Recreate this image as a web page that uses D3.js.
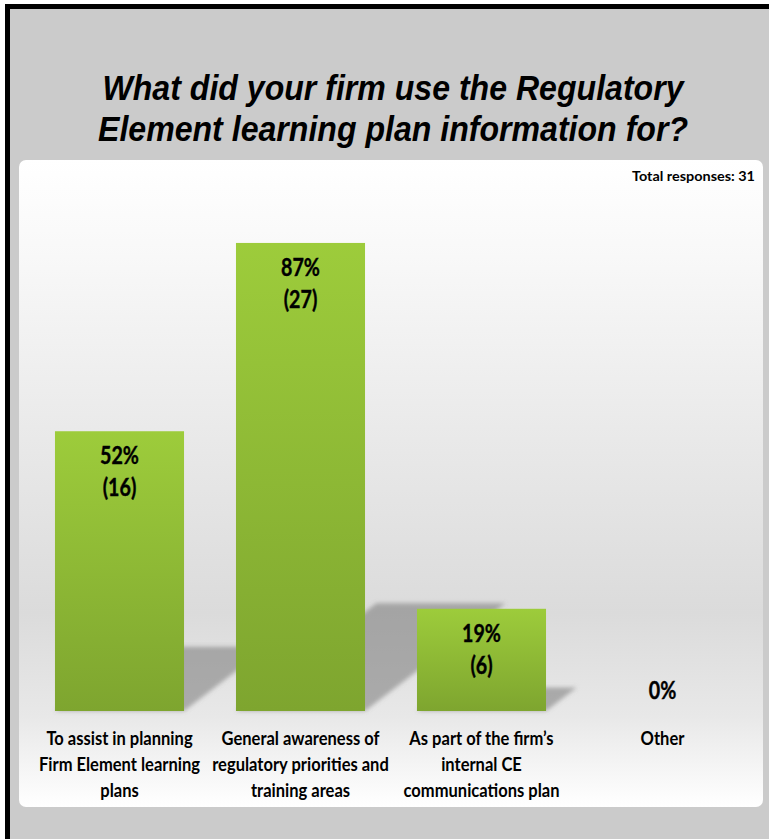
<!DOCTYPE html>
<html>
<head>
<meta charset="utf-8">
<script src="https://cdn.jsdelivr.net/npm/d3@7/dist/d3.min.js"></script>
<style>
  html, body { margin: 0; padding: 0; background: #ffffff; }
  svg { display: block; }
</style>
</head>
<body>
<script>
// ---- data ----
const categories = [
  ["To assist in planning", "Firm Element learning", "plans"],
  ["General awareness of", "regulatory priorities and", "training areas"],
  ["As part of the firm\u2019s", "internal CE", "communications plan"],
  ["Other"]
];
const percents = [52, 87, 19, 0];
const counts = [16, 27, 6, 0];
const titleLines = ["What did your firm use the Regulatory", "Element learning plan information for?"];
const totalLabel = "Total responses: 31";

// ---- layout ----
const W = 769, H = 839;
const svg = d3.select("body").append("svg").attr("width", W).attr("height", H);
const defs = svg.append("defs");

const panelGrad = defs.append("linearGradient").attr("id", "panelGrad")
  .attr("x1", 0).attr("y1", 0).attr("x2", 0).attr("y2", 1);
[[0, "#ffffff"], [0.15, "#f8f8f8"], [0.45, "#e8e8e8"], [0.7, "#dbdbdb"], [0.86, "#e8e8e8"], [1, "#ffffff"]]
  .forEach(([o, c]) => panelGrad.append("stop").attr("offset", o).attr("stop-color", c));

const barGrad = defs.append("linearGradient").attr("id", "barGrad")
  .attr("x1", 0).attr("y1", 0).attr("x2", 0).attr("y2", 1);
barGrad.append("stop").attr("offset", 0).attr("stop-color", "#9dcc3b");
barGrad.append("stop").attr("offset", 1).attr("stop-color", "#7ea52f");

const blur = defs.append("filter").attr("id", "blur")
  .attr("x", "-20%").attr("y", "-20%").attr("width", "140%").attr("height", "140%");
blur.append("feGaussianBlur").attr("stdDeviation", 2);

// frame
svg.append("rect").attr("x", 5).attr("y", 4).attr("width", W).attr("height", H).attr("fill", "#000");
svg.append("rect").attr("x", 10).attr("y", 9).attr("width", W).attr("height", H).attr("fill", "#cbcbcb");

// panel
svg.append("rect").attr("x", 19).attr("y", 160).attr("width", 744).attr("height", 647)
  .attr("rx", 7).attr("fill", "url(#panelGrad)");

// title
const title = svg.append("g")
  .attr("font-family", "'Liberation Sans', Arial, sans-serif")
  .attr("font-weight", "bold").attr("font-style", "italic")
  .attr("font-size", 35).attr("fill", "#000").attr("text-anchor", "middle");
title.append("text").attr("x", 393).attr("y", 100)
  .attr("textLength", 581).attr("lengthAdjust", "spacingAndGlyphs").text(titleLines[0]);
title.append("text").attr("x", 393).attr("y", 141)
  .attr("textLength", 590).attr("lengthAdjust", "spacingAndGlyphs").text(titleLines[1]);

// total responses
svg.append("text").attr("x", 755).attr("y", 181).attr("text-anchor", "end")
  .attr("font-family", "Lato, sans-serif").attr("font-weight", "bold").attr("font-size", 14)
  .attr("textLength", 123).attr("lengthAdjust", "spacingAndGlyphs")
  .text(totalLabel);

// scales
const idx = d3.range(categories.length);
const x = d3.scaleBand().domain(idx).range([29, 753]).paddingInner(0.287).paddingOuter(0.1435);
const y = d3.scaleLinear().domain([0, 100]).range([711, 173]);
const base = y(0);

// shadows
const shadowG = svg.append("g").attr("filter", "url(#blur)");
idx.forEach(i => {
  const h = base - y(percents[i]);
  if (h <= 0) return;
  const x0 = x(i), x1 = x(i) + x.bandwidth();
  const dx = 0.3 * h, dy = 0.23 * h;
  shadowG.append("polygon")
    .attr("points", [[x0, base], [x1, base], [x1 + dx, base - dy], [x0 + dx, base - dy]].map(p => p.join(",")).join(" "))
    .attr("fill", "#6e6e6e").attr("fill-opacity", 0.5);
});

// bars
svg.append("g").selectAll("rect").data(idx).join("rect")
  .attr("x", i => x(i)).attr("width", x.bandwidth())
  .attr("y", i => y(percents[i])).attr("height", i => base - y(percents[i]))
  .attr("fill", "url(#barGrad)");

// value labels
const valG = svg.append("g").attr("font-family", "Lato, sans-serif").attr("font-weight", "bold")
  .attr("font-size", 24).attr("fill", "#000").attr("text-anchor", "middle")
  .attr("stroke", "#000").attr("stroke-width", 0.4);
idx.forEach(i => {
  const cx = x(i) + x.bandwidth() / 2;
  const top = y(percents[i]);
  if (percents[i] > 0) {
    valG.append("text").attr("transform", `translate(${cx},${top + 33}) scale(0.82,1)`).text(percents[i] + "%");
    valG.append("text").attr("transform", `translate(${cx},${top + 65}) scale(0.82,1)`).text("(" + counts[i] + ")");
  } else {
    valG.append("text").attr("transform", `translate(${cx},${top - 12}) scale(0.82,1)`).text(percents[i] + "%");
  }
});

// category labels
const catG = svg.append("g").attr("font-family", "Lato, sans-serif").attr("font-weight", "bold")
  .attr("font-size", 19).attr("fill", "#000").attr("text-anchor", "middle");
idx.forEach(i => {
  const cx = x(i) + x.bandwidth() / 2;
  categories[i].forEach((line, k) => {
    catG.append("text").attr("transform", `translate(${cx},${745 + k * 26}) scale(0.87,1)`).text(line);
  });
});
</script>
</body>
</html>
